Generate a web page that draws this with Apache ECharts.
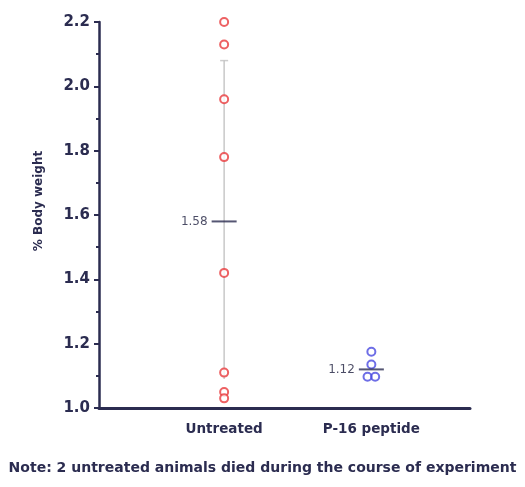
<!DOCTYPE html>
<html><head><meta charset="utf-8">
<script src="https://cdn.jsdelivr.net/npm/echarts@6/dist/echarts.min.js"></script>
<style>html,body{margin:0;padding:0;background:#fff}#c{width:525px;height:487px}</style>
</head><body><div id="c"></div>
<script>
const categories = ['Untreated', 'P-16 peptide'];
const untreatedValues = [2.20, 2.13, 1.96, 1.78, 1.42, 1.11, 1.05, 1.03];
const p16Values = [1.175, 1.135, 1.097, 1.097];
const p16Offsets = [0, 0, -0.026, 0.026];
const means = [1.58, 1.12];
const untreatedSD = [1.09, 2.08];
const yTicks = [1.0, 1.2, 1.4, 1.6, 1.8, 2.0, 2.2];
const note = 'Note: 2 untreated animals died during the course of experiment';

const navy = '#2b2c50';
const chart = echarts.init(document.getElementById('c'));
chart.setOption({
  animation: false,
  backgroundColor: '#fff',
  grid: {left: 99, top: 22, right: 55, bottom: 79},
  graphic: [{type: 'text', left: 'center', top: 461,
    style: {text: note, font: 'bold 14px "DejaVu Sans"', fill: navy}}],
  xAxis: {
    type: 'value', min: 0.15, max: 2.67,
    splitLine: {show: false},
    axisLine: {lineStyle: {color: navy, width: 3}},
    axisTick: {show: false},
    axisLabel: {customValues: [1, 2], formatter: v => categories[Math.round(v) - 1],
      color: navy, fontSize: 13.5, fontWeight: 'bold', fontFamily: 'DejaVu Sans', margin: 14}
  },
  yAxis: {
    type: 'value', min: 1.0, max: 2.2, interval: 0.2,
    name: '% Body weight', nameLocation: 'middle', nameGap: 54,
    nameTextStyle: {color: navy, fontSize: 12, fontWeight: 'bold', fontFamily: 'DejaVu Sans', padding: [0, 0, 0, 28]},
    splitLine: {show: false},
    axisLine: {show: true, lineStyle: {color: navy, width: 2.5}},
    axisTick: {show: true, length: 5, lineStyle: {color: navy, width: 2}},
    minorTick: {show: true, splitNumber: 2, length: 3, lineStyle: {color: navy, width: 2}},
    axisLabel: {formatter: v => v.toFixed(1), color: navy, fontSize: 15, fontWeight: 'bold', fontFamily: 'DejaVu Sans', margin: 9}
  },
  series: [
    {type: 'line', data: untreatedSD.map(v => [1, v]), symbol: 'none',
      lineStyle: {color: '#c8c8c8', width: 1.5}, z: 1},
    {type: 'scatter', data: [[1, untreatedSD[1]]], symbol: 'rect', symbolSize: [8, 1.5],
      itemStyle: {color: '#c0c0c0'}, z: 1},
    {type: 'scatter', data: untreatedValues.map(v => [1, v]), symbol: 'circle', symbolSize: 8,
      itemStyle: {color: '#fff', borderColor: '#e8393c', borderWidth: 2}, z: 3},
    {type: 'scatter', data: p16Values.map((v, i) => [2 + p16Offsets[i], v]), symbol: 'circle', symbolSize: 8,
      itemStyle: {color: 'rgba(255,255,255,0)', borderColor: '#4a4ae0', borderWidth: 2}, z: 3},
    {type: 'scatter', data: means.map((v, i) => [i + 1, v]), symbol: 'rect', symbolSize: [25, 2],
      itemStyle: {color: navy}, z: 4,
      label: {show: true, position: 'left', distance: 4, formatter: p => p.value[1].toFixed(2),
        color: '#1e1f3e', fontSize: 12, fontFamily: 'DejaVu Sans'}}
  ]
});
</script></body></html>
